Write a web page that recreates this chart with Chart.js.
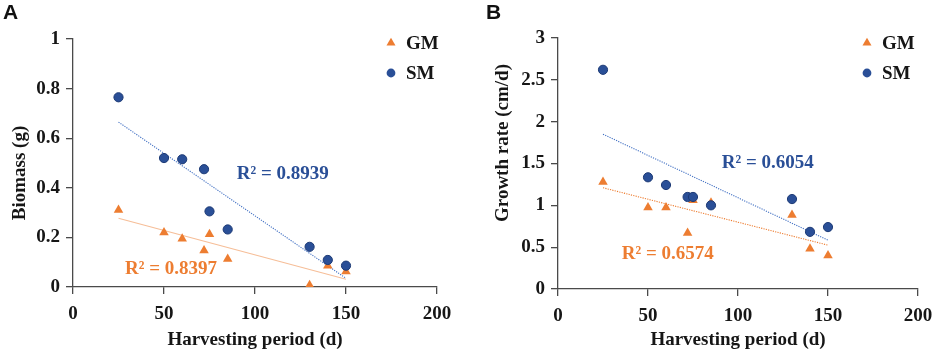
<!DOCTYPE html>
<html>
<head>
<meta charset="utf-8">
<script src="https://cdn.jsdelivr.net/npm/chart.js@4.4.0/dist/chart.umd.min.js"></script>
<style>
  body { margin: 0; background: #fff; }
  #wrap { position: relative; width: 935px; height: 356px; }
  canvas { position: absolute; top: 0; }
  .tag { position: absolute; top: 0; font: bold 21px "Liberation Sans", Arial, sans-serif; color: #111; }
</style>
</head>
<body>
<div id="wrap">
  <canvas id="chartA" width="467" height="356" style="left:0"></canvas>
  <canvas id="chartB" width="468" height="356" style="left:467px"></canvas>
  <div class="tag" style="left:3px">A</div>
  <div class="tag" style="left:486px">B</div>
</div>
<script>
// Harvesting period (d) for each sample
const harvestDays = [25, 50, 60, 72, 75, 85, 130, 140, 150];

// Panel A - biomass (g)
const biomassGM = [0.31, 0.22, 0.195, 0.147, 0.213, 0.113, 0.007, 0.086, 0.062];
const biomassSM = [0.765, 0.52, 0.515, 0.475, 0.305, 0.232, 0.162, 0.109, 0.086];

// Panel B - growth rate (cm/d)
const growthGM = [1.28, 0.975, 0.975, 0.67, 1.06, 1.03, 0.883, 0.48, 0.40];
const growthSM = [2.62, 1.335, 1.243, 1.10, 1.10, 1.0, 1.075, 0.683, 0.74];

// Linear trend lines (end points)
const trendDays = [25, 150];
const biomassFitGM = [0.277, 0.031];
const biomassFitSM = [0.665, 0.035];
const growthFitGM = [1.21, 0.524];
const growthFitSM = [1.85, 0.584];

// R² labels: [text, x, y] in data units
const biomassR2 = [["R² = 0.8939", 90, 0.456], ["R² = 0.8397", 28.6, 0.073]];
const growthR2 = [["R² = 0.6054", 91, 1.507], ["R² = 0.6574", 35.4, 0.416]];

const xTicks = [0, 50, 100, 150, 200];

const ORANGE = '#ED7D31';
const BLUE = '#2A4F97';
const SERIF = '"Liberation Serif", "Times New Roman", serif';
const INK = '#161616';

function toPoints(xs, ys) {
  return xs.map((x, i) => ({ x: x, y: ys[i] }));
}

// draws legend, R² texts and the y title
const decorPlugin = {
  id: 'decor',
  afterDatasetsDraw(chart, args, opts) {
    const ctx = chart.ctx;
    const xs = chart.scales.x, ys = chart.scales.y;
    ctx.save();
    ctx.font = 'bold 19px ' + SERIF;
    ctx.textBaseline = 'middle';
    ctx.textAlign = 'left';
    // legend
    opts.legend.forEach((item, i) => {
      const ds = chart.data.datasets[item.ds];
      const y = opts.legendY[i];
      ctx.fillStyle = ds.backgroundColor;
      ctx.strokeStyle = ds.backgroundColor;
      Chart.helpers.drawPoint(ctx, {
        pointStyle: ds.pointStyle, radius: item.r, rotation: 0, borderWidth: 0
      }, opts.legendX, y);
      ctx.fillStyle = INK;
      ctx.fillText(ds.label, opts.legendX + 15, y + 1);
    });
    // R² labels
    opts.r2.forEach((lab, i) => {
      ctx.fillStyle = opts.r2Colors[i];
      ctx.fillText(lab[0], xs.getPixelForValue(lab[1]), ys.getPixelForValue(lab[2]));
    });
    // y title
    ctx.translate(opts.yTitleX, opts.yTitleY);
    ctx.rotate(-Math.PI / 2);
    ctx.textAlign = 'center';
    ctx.fillStyle = INK;
    ctx.fillText(opts.yTitle, 0, 0);
    ctx.restore();
  }
};

function makeChart(id, p) {
  return new Chart(document.getElementById(id), {
    type: 'scatter',
    data: {
      datasets: [
        {
          label: 'SM', data: toPoints(harvestDays, p.sm), pointStyle: 'circle',
          pointRadius: 4.6, backgroundColor: BLUE, borderColor: '#1d3a75', borderWidth: 1, order: 1
        },
        {
          label: 'GM', data: toPoints(harvestDays, p.gm), pointStyle: 'triangle',
          pointRadius: 5.5, backgroundColor: ORANGE, borderColor: ORANGE, borderWidth: 0, order: 2
        },
        {
          type: 'line', label: 'SM fit', data: toPoints(trendDays, p.fitSM),
          borderColor: '#4472C4', borderWidth: 1.1, borderDash: [1.2, 1.2],
          pointRadius: 0, fill: false, order: 3
        },
        {
          type: 'line', label: 'GM fit', data: toPoints(trendDays, p.fitGM),
          borderColor: p.gmFitColor, borderWidth: 1.1, borderDash: p.gmFitDash,
          pointRadius: 0, fill: false, order: 4
        }
      ]
    },
    options: {
      responsive: false,
      animation: false,
      layout: { padding: p.padding },
      plugins: {
        legend: { display: false },
        tooltip: { enabled: false },
        decor: {
          legend: [{ ds: 1, r: 5.2 }, { ds: 0, r: 4.4 }],
          legendX: p.legendX, legendY: [43, 73],
          r2: p.r2, r2Colors: [BLUE, ORANGE],
          yTitle: p.yTitle, yTitleX: p.yTitleX, yTitleY: p.yTitleY
        }
      },
      scales: {
        x: {
          type: 'linear', min: 0, max: 200,
          afterBuildTicks: (s) => { s.ticks = xTicks.map(v => ({ value: v })); },
          afterFit: (s) => { s.height = p.xHeight; s.paddingLeft = 0; s.paddingRight = 0; },
          grid: { drawOnChartArea: false, tickLength: 7, color: '#4a4a4a', lineWidth: 1.3 },
          border: { display: true, color: '#4a4a4a', width: 1.3 },
          ticks: { padding: 9, color: INK, font: { family: SERIF, size: 19, weight: 'bold' } },
          title: {
            display: true, text: 'Harvesting period (d)', color: INK,
            font: { family: SERIF, size: 19, weight: 'bold' }, padding: { bottom: 5 }
          }
        },
        y: {
          type: 'linear', min: 0, max: p.yMax,
          ticks: {
            stepSize: p.yStep, padding: 6, color: INK,
            font: { family: SERIF, size: 19, weight: 'bold' },
            callback: (v) => String(Math.round(v * 10) / 10)
          },
          afterFit: (s) => { s.width = p.yWidth; s.paddingTop = 0; s.paddingBottom = 0; },
          grid: { drawOnChartArea: false, tickLength: 7, color: '#4a4a4a', lineWidth: 1.3 },
          border: { display: true, color: '#4a4a4a', width: 1.3 }
        }
      }
    },
    plugins: [decorPlugin]
  });
}

window.addEventListener('DOMContentLoaded', () => {
  makeChart('chartA', {
    gm: biomassGM, sm: biomassSM, fitGM: biomassFitGM, fitSM: biomassFitSM,
    gmFitColor: '#F6BE98', gmFitDash: [],
    r2: biomassR2, yMax: 1, yStep: 0.2,
    padding: { left: 0, top: 39, right: 30, bottom: 0 },
    yWidth: 73, xHeight: 69,
    legendX: 391, yTitle: 'Biomass (g)', yTitleX: 20, yTitleY: 173
  });
  makeChart('chartB', {
    gm: growthGM, sm: growthSM, fitGM: growthFitGM, fitSM: growthFitSM,
    gmFitColor: ORANGE, gmFitDash: [1.2, 1.2],
    r2: growthR2, yMax: 3, yStep: 0.5,
    padding: { left: 0, top: 38, right: 17, bottom: 0 },
    yWidth: 91, xHeight: 67,
    legendX: 400, yTitle: 'Growth rate (cm/d)', yTitleX: 36, yTitleY: 143
  });
});
</script>
</body>
</html>
